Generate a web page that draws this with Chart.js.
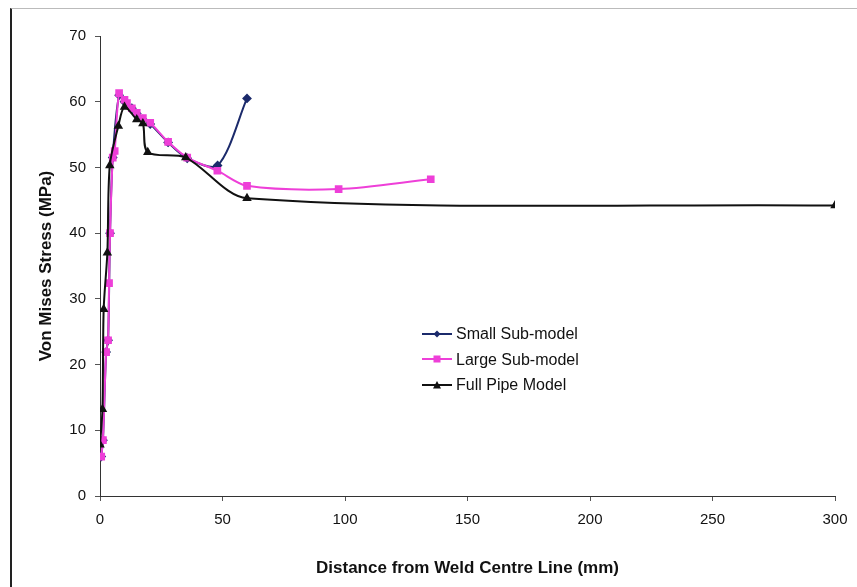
<!DOCTYPE html>
<html>
<head>
<meta charset="utf-8">
<script src="https://cdn.jsdelivr.net/npm/chart.js@4"></script>
<style>
  html, body { margin: 0; padding: 0; background: #fff; }
  #wrap { position: relative; width: 857px; height: 587px; }
  #frame { position: absolute; left: 10px; top: 8px; width: 847px; height: 579px;
           border-left: 2px solid #222; border-top: 1px solid #bbb; box-sizing: border-box; }
  #legend { position: absolute; left: 422px; top: 321px; font-family: "Liberation Sans", Arial, sans-serif;
            font-size: 16px; color: #111; line-height: 25.5px; }
  #legend div { display: flex; align-items: center; white-space: nowrap; }
  #legend svg { margin-right: 4px; }
</style>
</head>
<body>
<div id="wrap">
  <canvas id="myChart1" width="857" height="587"></canvas>
  <div id="frame"></div>
  <div id="legend"></div>
</div>
<script>
// Small sub-model
const smallX = [0.5, 1.2, 2.5, 3.3, 4.1, 5.2, 7.8, 10, 13, 15, 17.5, 20.5, 27.8, 35.6, 48, 60];
const smallY = [6, 8.5, 21.9, 23.7, 40, 51.5, 61, 60, 59, 58.2, 57.3, 56.6, 53.8, 51.4, 50.3, 60.5];

// Large sub-model
const largeX = [0.5, 1.2, 2.5, 3.3, 3.7, 4.1, 5.2, 6, 7.8, 10, 11, 13, 15, 17.5, 20.5, 27.8, 35.6, 47.9, 60, 97.4, 135];
const largeY = [6, 8.5, 21.9, 23.7, 32.4, 40, 51.5, 52.5, 61.3, 60.3, 59.8, 59, 58.3, 57.5, 56.8, 53.9, 51.5, 49.5, 47.2, 46.7, 48.2];

// Full pipe model
const fullX = [0, 1, 1.5, 3, 4, 7.5, 10, 15, 17.5, 19.5, 35, 60, 300];
const fullY = [7.8, 13.2, 28.4, 37, 50.3, 56.3, 59.2, 57.3, 56.7, 52.3, 51.5, 45.3, 44.2];

const seriesNames = ['Small Sub-model', 'Large Sub-model', 'Full Pipe Model'];
const xTicks = [0, 50, 100, 150, 200, 250, 300];
const yTicks = [0, 10, 20, 30, 40, 50, 60, 70];

function pts(xs, ys) {
    return xs.map((x, i) => ({x: x, y: ys[i]}));
}

const font = "'Liberation Sans', Arial, sans-serif";

function createChart()
{
    const ctx = document.getElementById('myChart1');

    window.myChart = new Chart(ctx, {
        type: 'line',
        data: {
            datasets: [{
                label: seriesNames[0],
                data: pts(smallX, smallY),
                borderColor: '#1b2a6b',
                backgroundColor: '#1b2a6b',
                borderWidth: 2,
                pointStyle: 'rectRot',
                radius: 3.5,
                tension: 0.3,
                order: 3
            }, {
                label: seriesNames[1],
                data: pts(largeX, largeY),
                borderColor: '#ee3fd8',
                backgroundColor: '#ee3fd8',
                borderWidth: 2,
                pointStyle: 'rect',
                radius: 4,
                tension: 0.3,
                order: 2
            }, {
                label: seriesNames[2],
                data: pts(fullX, fullY),
                borderColor: '#111',
                backgroundColor: '#111',
                borderWidth: 2,
                pointStyle: 'triangle',
                radius: 3.5,
                tension: 0.3,
                order: 1
            }]
        },
        options: {
            responsive: false,
            animation: false,
            layout: { padding: { left: 0, right: 22, top: 36, bottom: 0 } },
            plugins: { legend: { display: false }, tooltip: { enabled: false } },
            scales: {
                x: {
                    type: 'linear',
                    min: 0, max: 300,
                    afterBuildTicks: s => { s.ticks = xTicks.map(v => ({value: v})); },
                    afterFit: s => { s.height = 91; s.paddingRight = 0; },
                    grid: { display: true, drawOnChartArea: false, drawTicks: true, tickLength: 5, color: '#555' },
                    border: { display: true, color: '#333', width: 1 },
                    ticks: { color: '#111', font: { family: font, size: 15 }, padding: 10, maxRotation: 0 },
                    title: { display: true, text: 'Distance from Weld Centre Line (mm)', color: '#111',
                             font: { family: font, size: 17, weight: 'bold' }, padding: { top: 4, bottom: 8 } }
                },
                y: {
                    min: 0, max: 70,
                    afterBuildTicks: s => { s.ticks = yTicks.map(v => ({value: v})); },
                    afterFit: s => { s.width = 100; },
                    grid: { display: true, drawOnChartArea: false, drawTicks: true, tickLength: 5, color: '#555' },
                    border: { display: true, color: '#333', width: 1 },
                    ticks: { color: '#111', font: { family: font, size: 15 }, padding: 9 },
                    title: { display: true, text: 'Von Mises Stress (MPa)', color: '#111',
                             font: { family: font, size: 17, weight: 'bold' }, padding: { bottom: 0, top: 36 } }
                }
            }
        }
    });
}

function buildLegend() {
    const ds = window.myChart.data.datasets;
    const order = [0, 1, 2];
    const box = document.getElementById('legend');
    order.forEach(i => {
        const d = ds[i];
        let marker;
        if (d.pointStyle === 'rectRot') marker = '<polygon points="15,1.5 18.5,5 15,8.5 11.5,5" fill="' + d.borderColor + '"/>';
        else if (d.pointStyle === 'rect') marker = '<rect x="11.5" y="1.5" width="7" height="7" fill="' + d.borderColor + '"/>';
        else marker = '<polygon points="15,1 19,8.5 11,8.5" fill="' + d.borderColor + '"/>';
        const row = document.createElement('div');
        row.innerHTML = '<svg width="30" height="10"><line x1="0" y1="5" x2="30" y2="5" stroke="' + d.borderColor +
            '" stroke-width="2"/>' + marker + '</svg><span>' + d.label + '</span>';
        box.appendChild(row);
    });
}

createChart();
buildLegend();
</script>
</body>
</html>
